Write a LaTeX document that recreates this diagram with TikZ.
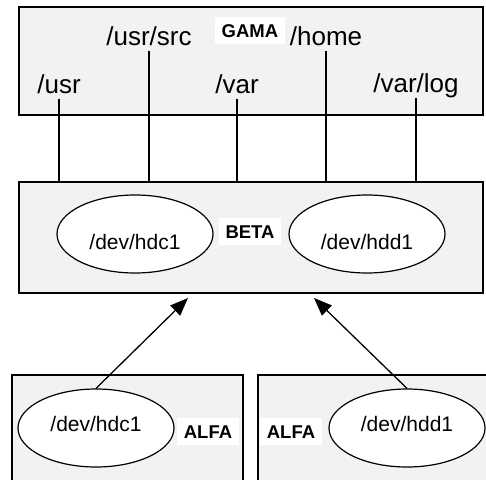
\documentclass[tikz,border=0pt]{standalone}
\usepackage{fontspec}
\setmainfont{Liberation Sans}
\usetikzlibrary{arrows.meta,shapes.geometric}

\begin{document}
\begin{tikzpicture}
    [x=1pt, y=-1pt,
    HostBox/.style={rectangle, draw=black, fill=black!5, line width=1.6pt, inner sep=0pt},
    HostLabel/.style={fill=white, inner sep=7pt, text depth=0pt, anchor=base, font=\fontsize{18.5}{20}\selectfont\bfseries},
    DirLabel/.style={anchor=base, text depth=0.3em, inner sep=3pt, font=\fontsize{26}{30}\selectfont},
    DiskNode/.style={ellipse, draw=black, fill=white, line width=1.2pt, minimum width=156pt, minimum height=78pt, inner sep=0pt, text height=0.72em, text depth=0pt, font=\fontsize{21}{24}\selectfont},
    MountLine/.style={line width=1.2pt},
    ImportArrow/.style={line width=1.3pt, -{Triangle[length=18pt, width=14pt]}}]
     \useasboundingbox (0,0) rectangle (486,479);
     \clip (0,0) rectangle (486,479);
     % hosts
     \node[HostBox, minimum width=464pt, minimum height=108pt] (GamaBox) at (251, 61){};
     \node[HostBox, minimum width=464pt, minimum height=111pt] (BetaBox) at (251, 237.5){};
     \node[HostBox, minimum width=231pt, minimum height=130pt] (AlfaBoxL) at (127.5, 440){};
     \node[HostBox, minimum width=242pt, minimum height=130pt] (AlfaBoxR) at (379, 440){};
     \node[HostLabel] (GamaLabel) at (250, 37){GAMA};
     \node[HostLabel] (BetaLabel) at (250, 238){BETA};
     \node[HostLabel] (AlfaLabelL) at (208, 438){ALFA};
     \node[HostLabel] (AlfaLabelR) at (291, 438){ALFA};
     % directories on GAMA
     \node[DirLabel] (UsrLabel) at (59, 93){/usr};
     \node[DirLabel] (UsrSrcLabel) at (149, 45){/usr/src};
     \node[DirLabel] (VarLabel) at (237, 93){/var};
     \node[DirLabel] (HomeLabel) at (326, 45){/home};
     \node[DirLabel] (VarLogLabel) at (416, 92){/var/log};
     \foreach \dir in {UsrLabel, UsrSrcLabel, VarLabel, HomeLabel, VarLogLabel}
        \draw[MountLine] (\dir.south) -- (\dir.south |- BetaBox.north);
     % disks
     \node[DiskNode, text height=30pt] (BetaHdc) at (135, 234){/dev/hdc1};
     \node[DiskNode, text height=30pt] (BetaHdd) at (367, 234){/dev/hdd1};
     \node[DiskNode] (AlfaHdc) at (96, 428){/dev/hdc1};
     \node[DiskNode] (AlfaHdd) at (407, 428){/dev/hdd1};
     \coordinate (TipL) at (188, 298);
     \coordinate (TipR) at (314, 298);
     \draw[ImportArrow] (AlfaHdc.north) -- (TipL);
     \draw[ImportArrow] (AlfaHdd.north) -- (TipR);
\end{tikzpicture}
\end{document}
